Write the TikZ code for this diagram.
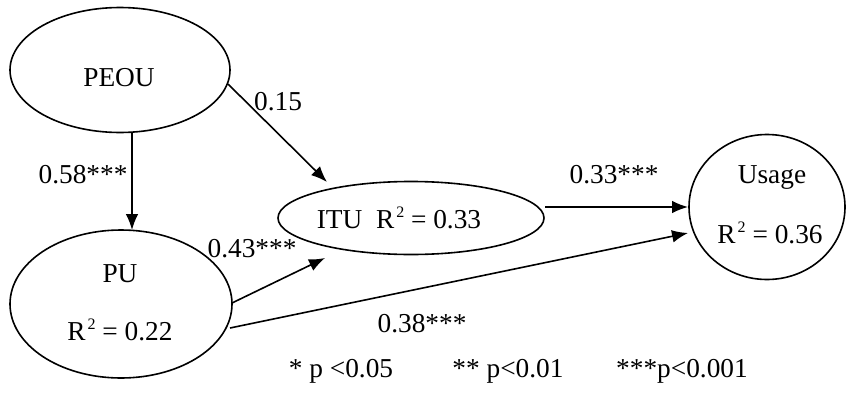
\documentclass[tikz,border=0pt]{standalone}
\usepackage{fontspec}
\setmainfont{Liberation Serif}
\usetikzlibrary{arrows.meta,shapes.geometric}
\newcommand{\sqtwo}{\kern1.5pt\raisebox{0.8ex}{\fontsize{12}{12}\selectfont 2}}
\tikzset{
  ell/.style={draw, ellipse, line width=1.2pt, inner sep=0pt},
  arr/.style={line width=1.2pt, -{Latex[length=12pt,width=9.5pt]}},
  txt/.style={anchor=base, inner sep=0pt}
}
\begin{document}
\begin{tikzpicture}[x=0.75pt,y=-0.75pt,font=\fontsize{20.5}{24}\selectfont]
\useasboundingbox (0,0) rectangle (848,414);
% ellipses
\node[ell, minimum width=165pt, minimum height=93.75pt] (peou) at (120,70) {};
\node[ell, minimum width=166.5pt, minimum height=111pt] (pu) at (121,304) {};
\node[ell, minimum width=199.5pt, minimum height=54.75pt] (itu) at (411,218) {};
\node[ell, minimum width=117pt, minimum height=108.75pt] (usage) at (767,207) {};
% texts in ellipses
\node[txt] (tpeou) at (119,86) {PEOU};
\node[txt] (tpu) at (120,282) {PU};
\node[txt] (tpur) at (120,340) {R\sqtwo\ = 0.22};
\node[txt] (titu) at (399,228) {ITU\ \ R\sqtwo\ = 0.33};
\node[txt] (tus) at (772,183) {Usage};
\node[txt] (tusr) at (770,243) {R\sqtwo\ = 0.36};
% connectors
\draw[arr] ([shift={(12,62)}]peou.center) -- ([shift={(11,-74)}]pu.center);
\draw[arr] ([shift={(108,14)}]peou.center) -- ([shift={(-84,-36)}]itu.center);
\draw[arr] ([shift={(111,-1)}]pu.center) -- ([shift={(-86,40)}]itu.center);
\draw[arr] ([shift={(134,-11)}]itu.center) -- ([shift={(-79,0)}]usage.center);
\draw[arr] ([shift={(109,24)}]pu.center) -- ([shift={(-79,26)}]usage.center);
% coefficient labels
\node[txt] (l15) at (278,110) {0.15};
\node[txt] (l58) at (83,183) {0.58***};
\node[txt] (l43) at (252,257) {0.43***};
\node[txt] (l33) at (614,183) {0.33***};
\node[txt] (l38) at (422,332) {0.38***};
% legend
\node[txt] (lg1) at (341,377) {* p <0.05};
\node[txt] (lg2) at (508,377) {** p<0.01};
\node[txt] (lg3) at (682,377) {***p<0.001};
\end{tikzpicture}
\end{document}
